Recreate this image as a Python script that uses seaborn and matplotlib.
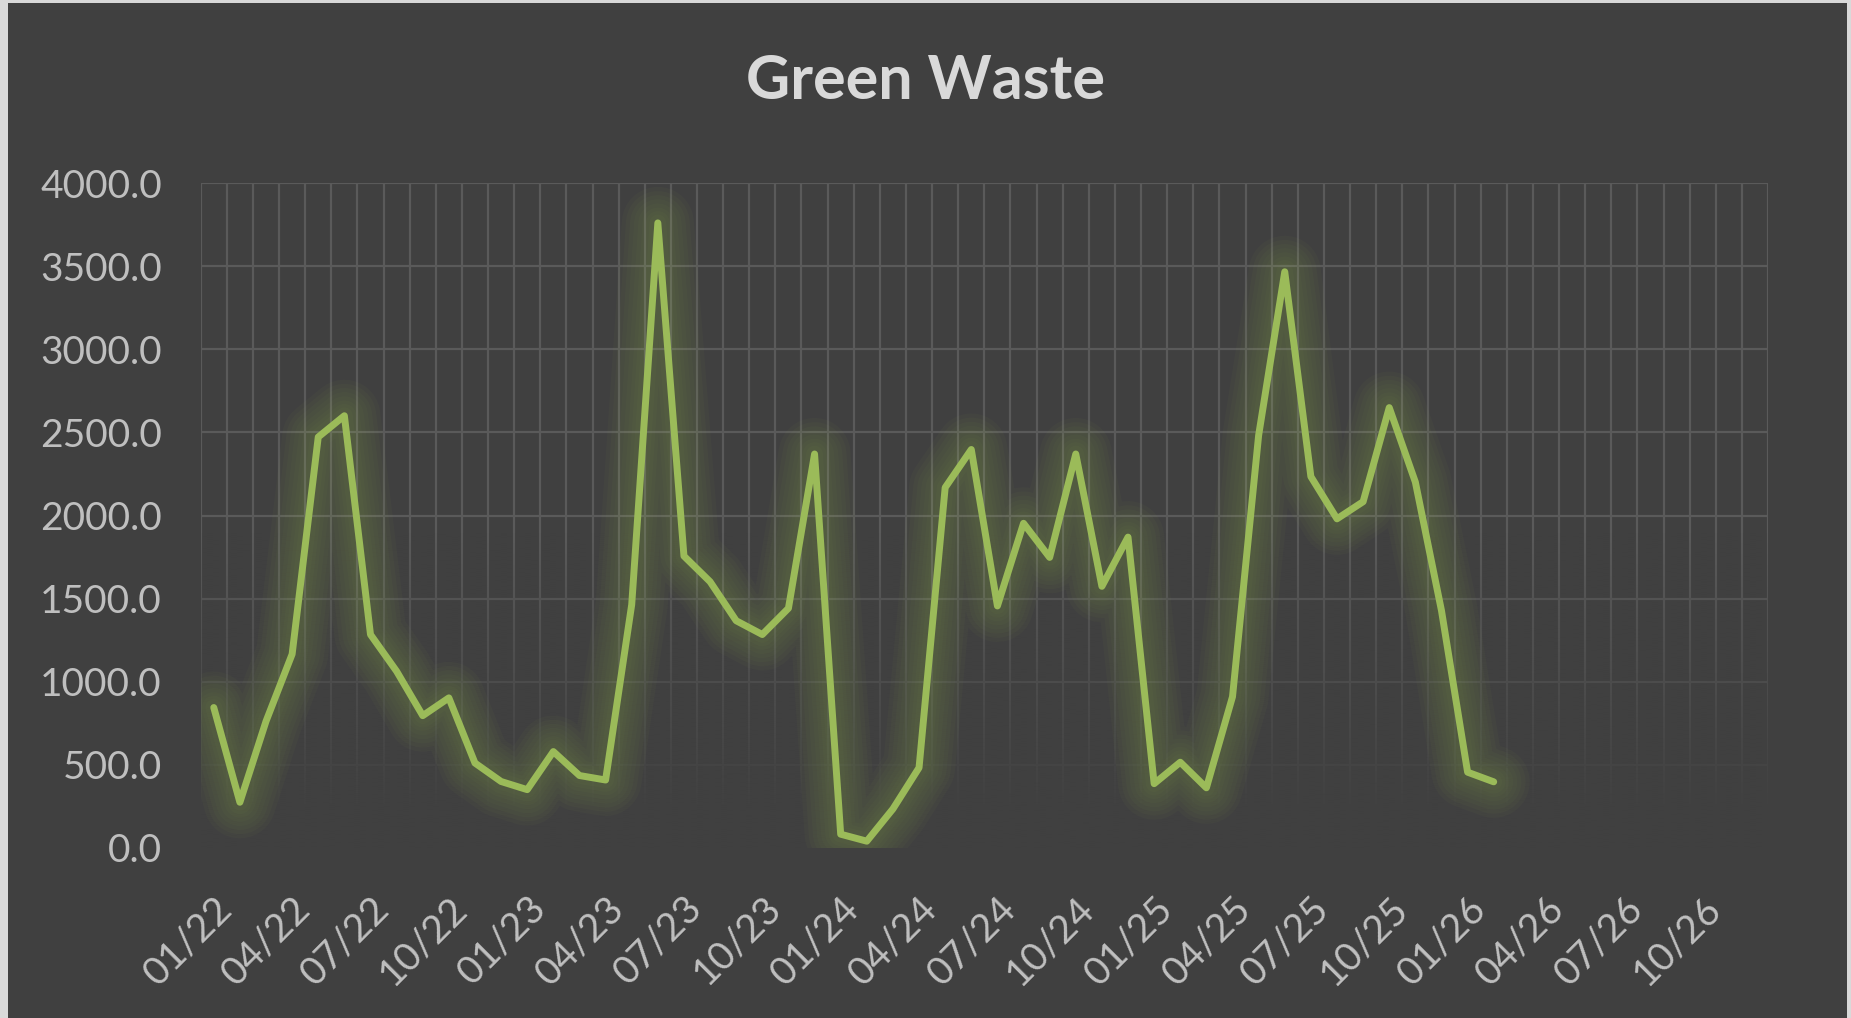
import numpy as np
import matplotlib
matplotlib.use("Agg")
import matplotlib.pyplot as plt
from matplotlib.patches import Rectangle
import seaborn as sns

# monthly green waste, Jan 2022 .. Feb 2026
values = [845, 275, 762, 1166, 2472, 2600, 1284, 1063, 796, 903,
          511, 400, 351, 580, 436, 409, 1464, 3760, 1756, 1602,
          1367, 1284, 1442, 2370, 83, 41, 235, 483, 2168, 2397,
          1456, 1953, 1748, 2370, 1574, 1870, 387, 516, 362, 910,
          2482, 3466, 2234, 1980, 2083, 2649, 2201, 1428, 456, 398]

# the category axis runs Jan 2022 .. Dec 2026, labelled every 3rd month
n_months = 60
tick_labels = ["01/22", "04/22", "07/22", "10/22",
               "01/23", "04/23", "07/23", "10/23",
               "01/24", "04/24", "07/24", "10/24",
               "01/25", "04/25", "07/25", "10/25",
               "01/26", "04/26", "07/26", "10/26"]

bg = "#404040"
green = "#9BBB59"
grid_col = "#5A5A5A"

sns.set_style("dark")
plt.rcParams["font.family"] = ["Lato", "DejaVu Sans"]

fig = plt.figure(figsize=(18.51, 10.18), dpi=100, facecolor="#D9D9D9")
fig.patches.append(Rectangle((8 / 1851, 0), (1847 - 8) / 1851, 1 - 3 / 1018,
                             transform=fig.transFigure, facecolor=bg,
                             edgecolor="none", zorder=-5))

ax = fig.add_axes([200.7 / 1851, 1 - 848 / 1018, (1768 - 200.7) / 1851, (848 - 183) / 1018])
ax.set_zorder(2)
ax.set_facecolor(bg)
for s in ax.spines.values():
    s.set_visible(False)

xs = np.arange(len(values))

# soft glow underneath the line
for lw in [52, 46, 40, 34, 28, 22, 17, 12]:
    sns.lineplot(x=xs, y=values, ax=ax, color=green, linewidth=lw, alpha=0.035,
                 solid_joinstyle="round", solid_capstyle="round", zorder=3)
sns.lineplot(x=xs, y=values, ax=ax, color=green, linewidth=5,
             solid_joinstyle="round", solid_capstyle="round", zorder=4)

# grid: horizontal every 500, vertical at every month boundary
ax.set_yticks(np.arange(0, 4001, 500))
ax.set_yticklabels([f"{v:.1f}" for v in np.arange(0, 4001, 500)])
ax.set_xticks(np.arange(0, n_months, 3))
ax.set_xticklabels(tick_labels, rotation=45, ha="right", rotation_mode="anchor")
ax.grid(False)
for y in np.arange(0, 4001, 500):
    ax.axhline(y, color=grid_col, linewidth=1.6, zorder=1)
for x in np.arange(-0.5, n_months, 1):
    ax.axvline(x, color=grid_col, linewidth=1.6, zorder=1)

# fade the grid toward the bottom
fade = np.clip((1900 - np.linspace(4000, 0, 200)) / 1700, 0, 1)
rgba = np.zeros((200, 1, 4))
rgba[..., :3] = np.array([64, 64, 64]) / 255
rgba[:, 0, 3] = fade
ax.imshow(rgba, extent=[-0.5, n_months - 0.5, 0, 4000], aspect="auto",
          zorder=2, interpolation="bilinear")
ax.set_xlim(-0.5, n_months - 0.5)
ax.set_ylim(0, 4000)

ax.tick_params(axis="both", which="both", length=0, colors="#BFBFBF", labelsize=28)
ax.tick_params(axis="y", pad=28)
ax.tick_params(axis="x", pad=30)
ax.set_xlabel("")
ax.set_ylabel("")

fig.text(0.5, 1 - 81 / 1018, "Green Waste", ha="center", va="center",
         fontsize=44, fontweight="bold", color="#D9D9D9")

fig.savefig("out.png", dpi=100, facecolor=fig.get_facecolor())
